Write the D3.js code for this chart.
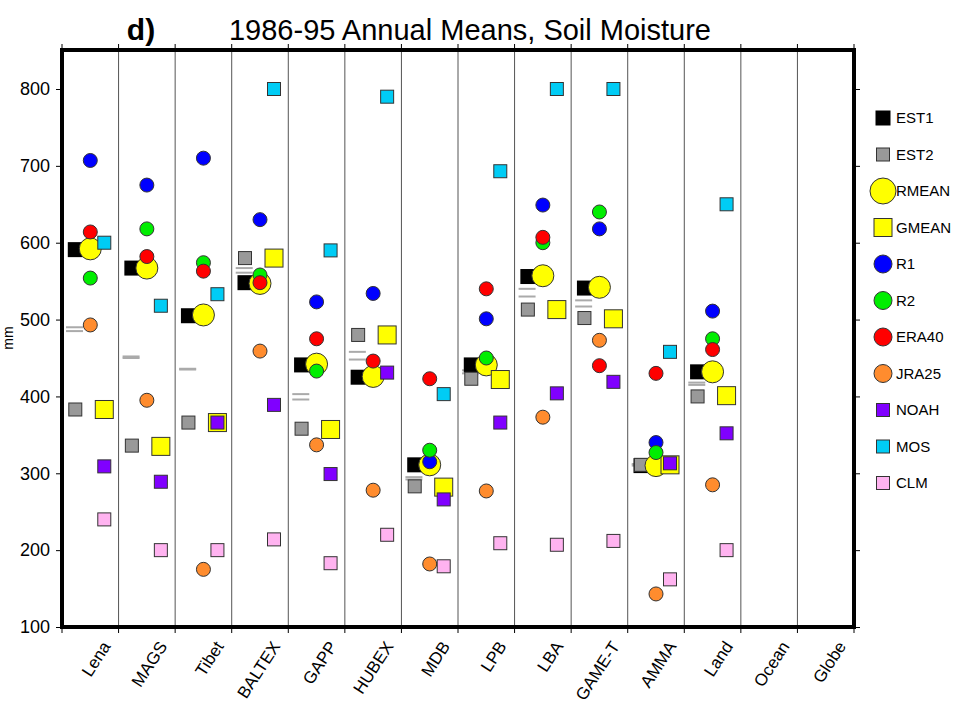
<!DOCTYPE html>
<html><head><meta charset="utf-8">
<script src="https://cdn.jsdelivr.net/npm/d3@7"></script>
<style>body{margin:0;background:#fff}text{font-family:Arial,"Liberation Sans",sans-serif}</style>
</head><body>
<script>
// regions along the x axis
var regions = ["Lena","MAGS","Tibet","BALTEX","GAPP","HUBEX","MDB","LPB","LBA","GAME-T","AMMA","Land","Ocean","Globe"];
var yTicks = [100,200,300,400,500,600,700,800];

// values per series, one per region (null = no value)
var EST1  = [591,567,505,548,441,425,311,441,556,541,310,432,null,null];
var EST2  = [383,336,366,580,358,480,283,423,513,502,311,400,null,null];
var RMEAN = [592,567,506,547,442,426,311,441,557,542,310,432,null,null];
var GMEAN = [383,335,366,580,357,480,282,422,513,501,311,401,null,null];
var R1    = [707,675,710,630,523,534,315,501,649,618,340,511,null,null];
var R2    = [554,618,574,558,433,null,330,450,600,640,327,475,null,null];
var ERA40 = [614,582,563,548,475,446,423,540,607,440,430,461,null,null];
var JRA25 = [493,395,175,459,337,278,182,277,373,473,143,285,null,null];
var NOAH  = [309,289,366,389,299,431,266,366,404,419,313,352,null,null];
var MOS   = [600,518,533,800,590,790,403,693,800,800,458,650,null,null];
var CLM   = [240,200,200,214,183,220,179,209,207,212,162,200,null,null];
var grayA = [490,452,436,567,403,458,295,434,540,525,312,418,null,null];
var grayB = [485,450,435,561,396,448,292,430,530,517,310,415,null,null];

var series = [
  {name:"EST1", v:EST1, shape:"sq", size:15, fill:"#000", dx:-15},
  {name:"EST2", v:EST2, shape:"sq", size:13, fill:"#999", dx:-15},
  {name:"RMEAN", v:RMEAN, shape:"ci", size:11, fill:"#ffff00", dx:0},
  {name:"GMEAN", v:GMEAN, shape:"sq", size:18, fill:"#ffff00", dx:14},
  {name:"R1", v:R1, shape:"ci", size:7, fill:"#0000ff", dx:0},
  {name:"R2", v:R2, shape:"ci", size:7, fill:"#00ee00", dx:0},
  {name:"ERA40", v:ERA40, shape:"ci", size:7, fill:"#ff0000", dx:0},
  {name:"JRA25", v:JRA25, shape:"ci", size:7, fill:"#ff8c2e", dx:0},
  {name:"NOAH", v:NOAH, shape:"sq", size:13, fill:"#8000ff", dx:14},
  {name:"MOS", v:MOS, shape:"sq", size:13, fill:"#00ccf5", dx:14},
  {name:"CLM", v:CLM, shape:"sq", size:13, fill:"#ffb3f0", dx:14}
];

var W = 976, H = 711;
var svg = d3.select("body").append("svg").attr("width", W).attr("height", H);
var L = 62, R = 854, T = 50, B = 627;

var x = d3.scaleBand().domain(regions).range([L, R]);
var y = d3.scaleLinear().domain([100, 800]).range([B, 89]);

// column separators
svg.append("g").selectAll("line").data(regions.slice(1)).join("line")
  .attr("x1", d => x(d)).attr("x2", d => x(d)).attr("y1", T).attr("y2", B)
  .attr("stroke", "#555").attr("stroke-width", 1);

// axes
svg.append("g").attr("transform", "translate(" + L + ",0)")
  .call(d3.axisLeft(y).tickValues(yTicks).tickSize(6).tickPadding(6))
  .call(g => g.select(".domain").remove())
  .call(g => g.selectAll("text").attr("font-size", 18).attr("fill", "#000"));
svg.append("g").attr("transform", "translate(" + R + ",0)")
  .call(d3.axisRight(y).tickValues(yTicks).tickSize(6).tickFormat(""))
  .call(g => g.select(".domain").remove());
var bounds = regions.map(d => x(d)).concat([R]);
svg.append("g").selectAll("line").data(bounds).join("line")
  .attr("x1", d => d).attr("x2", d => d).attr("y1", T - 6).attr("y2", T).attr("stroke", "#000");
svg.append("g").selectAll("line").data(bounds).join("line")
  .attr("x1", d => d).attr("x2", d => d).attr("y1", B).attr("y2", B + 6).attr("stroke", "#000");

// region labels
svg.append("g").selectAll("text").data(regions).join("text")
  .attr("transform", d => "translate(" + (x(d) + x.bandwidth() / 2 + 16) + "," + (B + 16) + ") rotate(-57)")
  .attr("text-anchor", "end").attr("dy", "0.35em").attr("font-size", 17).text(d => d);

// gray dashes
[grayA, grayB].forEach(arr => {
  svg.append("g").selectAll("line").data(regions.filter((d, i) => arr[i] != null)).join("line")
    .attr("x1", d => x(d) + 4).attr("x2", d => x(d) + 21)
    .attr("y1", d => y(arr[regions.indexOf(d)])).attr("y2", d => y(arr[regions.indexOf(d)]))
    .attr("stroke", "#aaa").attr("stroke-width", 2);
});

// markers
series.forEach(s => {
  var pts = regions.map((r, i) => ({r: r, v: s.v[i]})).filter(p => p.v != null);
  var g = svg.append("g");
  var cx = p => x(p.r) + x.bandwidth() / 2 + s.dx;
  if (s.shape === "ci") {
    g.selectAll("circle").data(pts).join("circle")
      .attr("cx", cx).attr("cy", p => y(p.v)).attr("r", s.size)
      .attr("fill", s.fill).attr("stroke", "#333").attr("stroke-width", 1);
  } else {
    g.selectAll("rect").data(pts).join("rect")
      .attr("x", p => cx(p) - s.size / 2).attr("y", p => y(p.v) - s.size / 2)
      .attr("width", s.size).attr("height", s.size)
      .attr("fill", s.fill).attr("stroke", s.name === "EST1" ? "none" : "#333").attr("stroke-width", 1);
  }
});

// frame
svg.append("rect").attr("x", L).attr("y", T).attr("width", R - L).attr("height", B - T)
  .attr("fill", "none").attr("stroke", "#000").attr("stroke-width", 4);

// legend
var lg = svg.append("g").selectAll("g").data(series).join("g")
  .attr("transform", (d, i) => "translate(883," + (118 + i * 36.5) + ")");
lg.filter(d => d.shape === "sq").append("rect")
  .attr("x", d => -d.size / 2).attr("y", d => -d.size / 2).attr("width", d => d.size).attr("height", d => d.size)
  .attr("fill", d => d.fill).attr("stroke", d => d.name === "EST1" ? "none" : "#333");
lg.filter(d => d.shape === "ci").append("circle").attr("r", d => d.size === 11 ? 13 : 9)
  .attr("fill", d => d.fill).attr("stroke", "#333");
lg.append("text").attr("x", 13).attr("dy", "0.35em").attr("font-size", 15).text(d => d.name);

// titles
svg.append("text").attr("x", 141).attr("y", 40).attr("font-size", 30).attr("font-weight", "bold")
  .attr("text-anchor", "middle").text("d)");
svg.append("text").attr("x", 470).attr("y", 40).attr("font-size", 29)
  .attr("text-anchor", "middle").text("1986-95 Annual Means, Soil Moisture");
svg.append("text").attr("transform", "translate(13,338) rotate(-90)").attr("font-size", 14)
  .attr("text-anchor", "middle").text("mm");
</script>
</body></html>
